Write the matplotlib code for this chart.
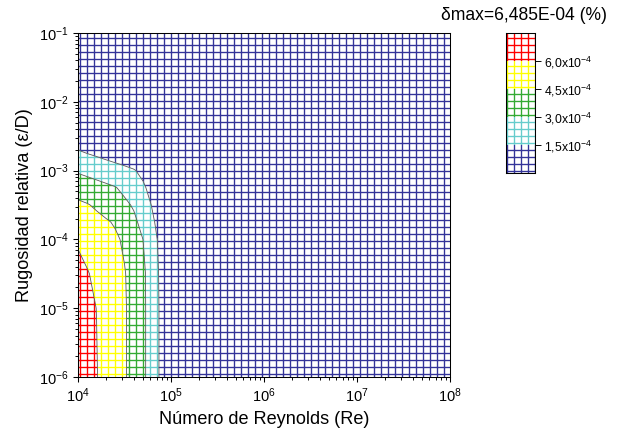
import numpy as np
import matplotlib

matplotlib.use("Agg")
import matplotlib.pyplot as plt
from matplotlib.path import Path
from matplotlib.patches import PathPatch
import contourpy

plt.rcParams["font.family"] = ["Liberation Sans", "DejaVu Sans"]
plt.rcParams["mathtext.fontset"] = "custom"
plt.rcParams["mathtext.rm"] = "Liberation Sans"
plt.rcParams["mathtext.it"] = "Liberation Sans:italic"
plt.rcParams["hatch.linewidth"] = 1.15

# grid nodes (log10 of Re and of relative roughness)
log_re = [4.0, 4.1, 4.2, 4.3, 4.4, 4.5, 4.6, 4.7, 4.8, 4.9, 5.0, 6.0, 7.0, 8.0]
log_rr = [-6.0, -5.0, -4.5, -4.0, -3.75, -3.5, -3.25, -3.0, -2.75, -2.5, -2.0, -1.0]

# delta (x1e-4 %), one row per roughness value
delta = [
    [6.485, 6.265, 6.044, 5.613, 5.129, 4.645, 4.000, 3.286, 2.250, 1.186, 0.40, 0.08, 0.03, 0.01],
    [6.400, 6.200, 5.990, 5.545, 5.091, 4.636, 4.000, 3.286, 2.250, 1.186, 0.40, 0.08, 0.03, 0.01],
    [6.250, 6.071, 5.763, 5.368, 4.974, 4.579, 3.955, 3.273, 2.217, 1.143, 0.35, 0.07, 0.03, 0.01],
    [5.900, 5.602, 5.304, 5.006, 4.709, 4.304, 3.652, 2.990, 1.966, 1.074, 0.30, 0.06, 0.02, 0.01],
    [5.260, 5.058, 4.856, 4.654, 4.370, 3.829, 3.287, 2.578, 1.680, 0.944, 0.25, 0.05, 0.02, 0.01],
    [4.750, 4.580, 4.316, 3.970, 3.624, 3.277, 2.854, 2.122, 1.409, 0.805, 0.20, 0.04, 0.02, 0.01],
    [3.930, 3.717, 3.503, 3.290, 3.077, 2.673, 2.163, 1.653, 1.150, 0.650, 0.15, 0.03, 0.01, 0.01],
    [2.820, 2.612, 2.404, 2.196, 1.989, 1.781, 1.573, 1.254, 0.876, 0.498, 0.12, 0.02, 0.01, 0.01],
    [1.720, 1.490, 1.296, 1.095, 0.917, 0.780, 0.700, 0.550, 0.400, 0.250, 0.10, 0.02, 0.01, 0.01],
    [0.600, 0.550, 0.500, 0.450, 0.400, 0.350, 0.300, 0.250, 0.200, 0.120, 0.06, 0.02, 0.01, 0.01],
    [0.200, 0.180, 0.160, 0.140, 0.120, 0.100, 0.090, 0.080, 0.060, 0.040, 0.03, 0.01, 0.01, 0.01],
    [0.050, 0.050, 0.040, 0.040, 0.030, 0.030, 0.020, 0.020, 0.020, 0.010, 0.01, 0.01, 0.01, 0.01],
]

levels = [0.0, 1.5, 3.0, 4.5, 6.0, 7.5]
level_colors = ["#333399", "#66cccc", "#33aa33", "#ffff00", "#ff0000"]
cbar_ticks = [1.5, 3.0, 4.5, 6.0]
cbar_labels = [r"1,5x10$^{-4}$", r"3,0x10$^{-4}$", r"4,5x10$^{-4}$", r"6,0x10$^{-4}$"]
delta_max = "6,485E-04"

DPI = 84
fig = plt.figure(figsize=(618 / DPI, 436 / DPI), dpi=DPI)
ax = fig.add_axes([78 / 618, 59 / 436, 372 / 618, 344 / 436])

gen = contourpy.contour_generator(
    np.array(log_re), np.array(log_rr), np.array(delta),
    fill_type=contourpy.FillType.OuterCode,
    line_type=contourpy.LineType.Separate,
)
for lo, hi, col in zip(levels[:-1], levels[1:], level_colors):
    polys, codes = gen.filled(lo, hi)
    for pts, cds in zip(polys, codes):
        patch = PathPatch(Path(10.0 ** pts, cds), facecolor="white", edgecolor=col,
                          hatch="++", linewidth=0)
        ax.add_patch(patch)
for lev in levels[1:-1]:
    for seg in gen.lines(lev):
        ax.plot(10.0 ** seg[:, 0], 10.0 ** seg[:, 1], color="#555555", linewidth=0.7)

ax.set_xscale("log")
ax.set_yscale("log")
ax.set_xlim(1e4, 1e8)
ax.set_ylim(1e-6, 1e-1)
ax.tick_params(which="both", direction="out", top=False, right=False, labelsize=12.5)
ax.tick_params(which="major", length=4.5, width=0.9)
ax.tick_params(which="minor", length=2.5, width=0.8)
ax.set_xlabel("Número de Reynolds (Re)", fontsize=15.5, labelpad=5)
ax.set_ylabel("Rugosidad relativa (ε/D)", fontsize=15.5, labelpad=5)
for sp in ax.spines.values():
    sp.set_linewidth(0.9)

# hatched colour key
cax = fig.add_axes([506 / 618, 263 / 436, 29 / 618, 140 / 436])
for lo, hi, col in zip(levels[:-1], levels[1:], level_colors):
    cax.bar(0.5, hi - lo, bottom=lo, width=1.0, color="white", edgecolor=col,
            hatch="++", linewidth=0)
cax.set_xlim(0, 1)
cax.set_ylim(levels[0], levels[-1])
cax.set_xticks([])
cax.yaxis.tick_right()
cax.set_yticks(cbar_ticks)
cax.set_yticklabels(cbar_labels)
cax.tick_params(axis="y", direction="out", length=5, width=0.8, labelsize=10.5, pad=3)
for sp in cax.spines.values():
    sp.set_linewidth(0.9)

fig.text(0.983, 0.965, f"δmax={delta_max} (%)", ha="right", va="center", fontsize=15)

fig.savefig("out.png", dpi=DPI)
